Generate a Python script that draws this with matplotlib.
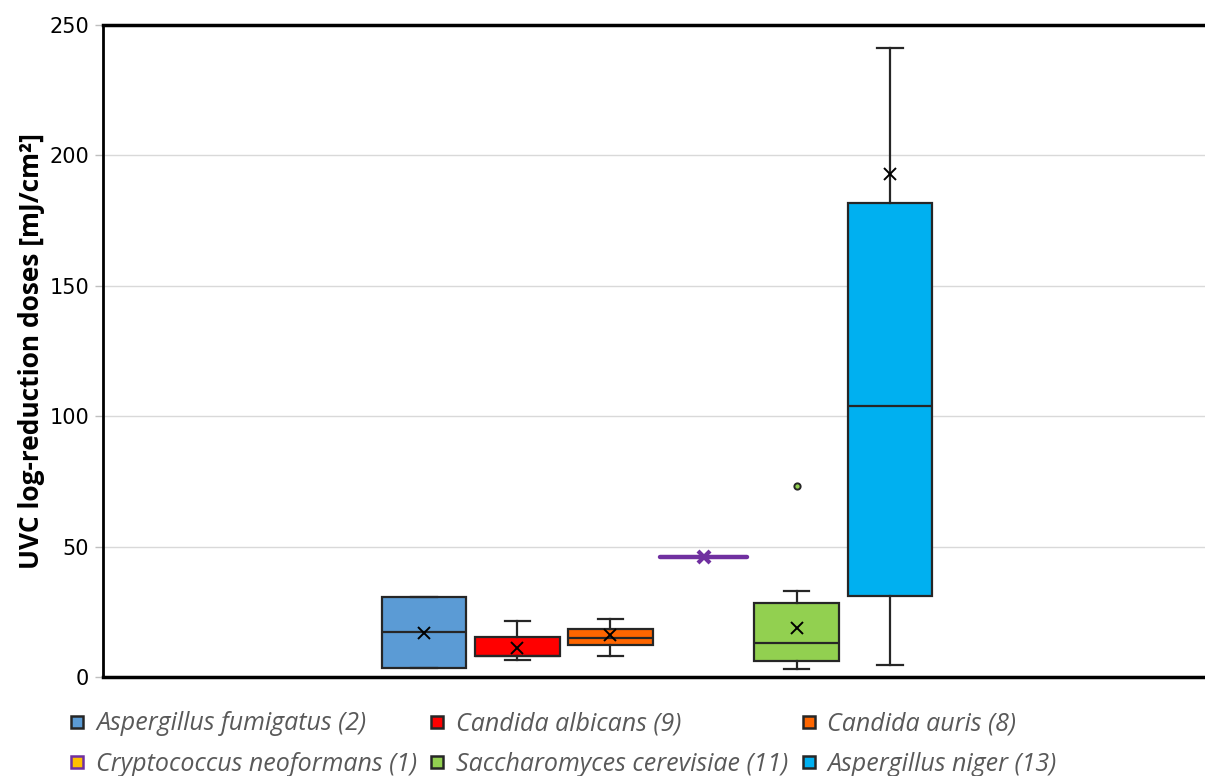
import matplotlib
matplotlib.use("Agg")
import matplotlib.pyplot as plt
from matplotlib.lines import Line2D

# ---- data ----
species = ["Aspergillus fumigatus (2)", "Candida albicans (9)", "Candida auris (8)",
           "Cryptococcus neoformans (1)", "Saccharomyces cerevisiae (11)", "Aspergillus niger (13)"]
q1 =      [3.4, 8.1, 12.3, 46.0, 6.1, 31.1]
median =  [17.2, 8.1, 15.0, 46.0, 13.0, 104.0]
q3 =      [30.6, 15.3, 18.4, 46.0, 28.4, 181.8]
wlo =     [3.4, 6.5, 8.0, 46.0, 3.1, 4.6]
whi =     [30.6, 21.5, 22.2, 46.0, 33.0, 241.2]
means =   [17.0, 11.1, 16.0, 46.0, 18.8, 192.9]
outliers = [[], [], [], [], [73.2], []]
colors = ["#5B9BD5", "#FF0000", "#FF6600", "#FFC000", "#92D050", "#00B0F0"]
edgecolors = ["#262626", "#262626", "#262626", "#7030A0", "#262626", "#262626"]
yticks = [0, 50, 100, 150, 200, 250]

fig = plt.figure(figsize=(12.05, 7.76), dpi=100)
ax = fig.add_axes([103/1205, 1-677/776, 1-103/1205, (677-25)/776])

positions = list(range(1, len(species)+1))
stats = []
for i in range(len(species)):
    stats.append(dict(med=median[i], q1=q1[i], q3=q3[i], whislo=wlo[i], whishi=whi[i],
                      mean=means[i], fliers=outliers[i], label=species[i]))

for i, st in enumerate(stats):
    if species[i].startswith("Cryptococcus"):
        ax.plot([positions[i]-0.47, positions[i]+0.47], [st["med"], st["med"]],
                color="#7030A0", lw=3.2, solid_capstyle="round", zorder=3)
        ax.plot([positions[i]], [st["mean"]], marker="x", color="#7030A0", ms=8, mew=3, zorder=4)
        continue
    ax.bxp([st], positions=[positions[i]], widths=0.91, patch_artist=True,
           showmeans=True, showfliers=True,
           boxprops=dict(facecolor=colors[i], edgecolor="#262626", linewidth=1.6),
           medianprops=dict(color="#262626", linewidth=1.6),
           whiskerprops=dict(color="#262626", linewidth=1.6),
           capprops=dict(color="#262626", linewidth=1.6),
           capwidths=0.27,
           meanprops=dict(marker="x", markeredgecolor="#000000", markersize=8, markeredgewidth=1.4),
           flierprops=dict(marker="o", markerfacecolor=colors[i], markeredgecolor="#262626",
                           markersize=4.5, markeredgewidth=1.4),
           manage_ticks=False, zorder=3)

ax.set_xlim(1-321/93.2, 1+781/93.2)
ax.set_ylim(0, 250)
ax.set_yticks(yticks)
ax.set_xticks([])
ax.tick_params(axis="y", labelsize=15, length=6, width=1, color="#bfbfbf", pad=4)
for t in ax.get_yticklabels():
    t.set_fontfamily("DejaVu Sans")
ax.yaxis.grid(True, color="#d9d9d9", linewidth=1)
ax.set_axisbelow(True)
for s in ["top", "bottom"]:
    ax.spines[s].set_linewidth(2.5)
    ax.spines[s].set_color("#000000")
ax.spines["left"].set_linewidth(2)
ax.spines["left"].set_color("#000000")
ax.spines["right"].set_visible(False)

ax.set_ylabel("UVC log-reduction doses [mJ/cm²]", fontsize=19, fontweight="bold",
              fontfamily="Open Sans", labelpad=3)

handles = []
for i in range(len(species)):
    handles.append(Line2D([], [], linestyle="none", marker="s", markersize=8,
                          markerfacecolor=colors[i], markeredgecolor=edgecolors[i],
                          markeredgewidth=1.8, label=species[i]))
order = [0, 3, 1, 4, 2, 5]
leg = fig.legend(handles=[handles[k] for k in order], ncol=3, loc="lower left",
                 bbox_to_anchor=(46/1205, -0.030),
                 frameon=False, handlelength=0.7, handletextpad=0.4, columnspacing=0.46,
                 labelspacing=0.62, prop=dict(family="Open Sans", style="italic", size=18))
for t in leg.get_texts():
    t.set_color("#595959")

fig.savefig("out.png", dpi=100)
